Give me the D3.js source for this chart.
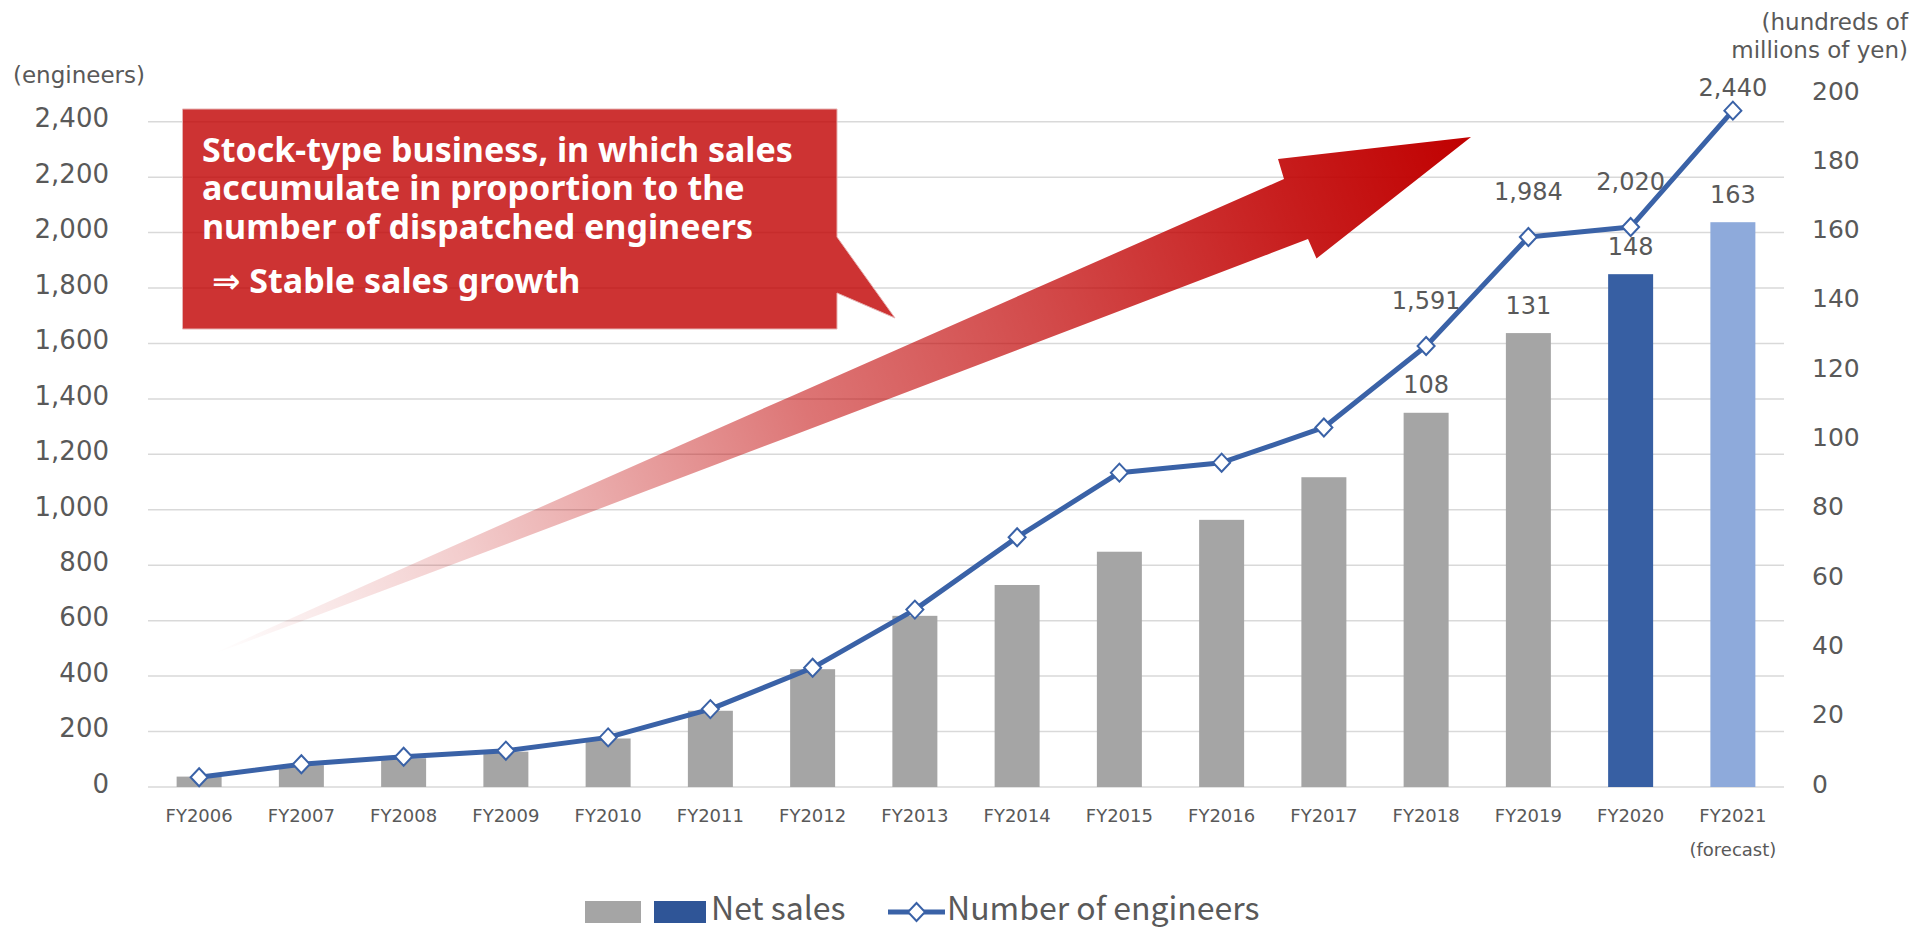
<!DOCTYPE html>
<html>
<head>
<meta charset="utf-8">
<script src="https://cdn.jsdelivr.net/npm/d3@7"></script>
<style>
  html, body { margin: 0; padding: 0; background: #ffffff; }
  svg { display: block; }
</style>
</head>
<body>
<script>
// Fiscal years on the category axis
const categories = ["FY2006", "FY2007", "FY2008", "FY2009", "FY2010", "FY2011", "FY2012", "FY2013",
                    "FY2014", "FY2015", "FY2016", "FY2017", "FY2018", "FY2019", "FY2020", "FY2021"];
// Net sales, hundreds of millions of yen (right axis)
const netSales = [3, 6.3, 8.3, 10.2, 14, 22, 34, 49.4, 58.3, 67.9, 77.1, 89.4, 108, 131, 148, 163];
// Number of dispatched engineers (left axis)
const engineers = [35, 82, 109, 131, 179, 281, 430, 640, 901, 1134, 1170, 1297, 1591, 1984, 2020, 2440];
// Years whose values are printed on the chart
const labelledYears = ["FY2018", "FY2019", "FY2020", "FY2021"];
const latestYear = "FY2020";
const forecastYear = "FY2021";
const forecastNote = "(forecast)";
// Axis ticks
const leftTicks = [0, 200, 400, 600, 800, 1000, 1200, 1400, 1600, 1800, 2000, 2200, 2400];
const rightTicks = [0, 20, 40, 60, 80, 100, 120, 140, 160, 180, 200];
const leftAxisTitle = "(engineers)";
const rightAxisTitle = ["(hundreds of", "millions of yen)"];
const calloutLines = ["Stock-type business, in which sales",
                      "accumulate in proportion to the",
                      "number of dispatched engineers"];
const calloutConclusion = "⇒ Stable sales growth";
const legendSales = "Net sales";
const legendEngineers = "Number of engineers";

const W = 1927, H = 929;
const plot = { left: 148, right: 1784, top: 94, bottom: 787 };
const textColor = "#595959";
const axisFont = "'DejaVu Sans', Verdana, sans-serif";
const legendFont = "'Noto Sans CJK JP', 'Noto Sans', sans-serif";
const gray = "#a5a5a5", darkBlue = "#375fa3", lightBlue = "#8eaadb", lineBlue = "#3a62a7";

const svg = d3.select("body").append("svg").attr("width", W).attr("height", H);

const x = d3.scaleBand().domain(categories).range([plot.left, plot.right])
  .paddingInner(0.56).paddingOuter(0.28);
const yLeft = d3.scaleLinear().domain([0, 2500]).range([plot.bottom, plot.top]);
const yRight = d3.scaleLinear().domain([0, 200]).range([plot.bottom, plot.top]);
const cx = c => x(c) + x.bandwidth() / 2;

// Horizontal gridlines
svg.append("g").selectAll("line").data(leftTicks).join("line")
  .attr("x1", plot.left).attr("x2", plot.right)
  .attr("y1", d => yLeft(d)).attr("y2", d => yLeft(d))
  .attr("stroke", "#d9d9d9").attr("stroke-width", 1.5);

// Growth arrow with a fading gradient
const defs = svg.append("defs");
const grad = defs.append("linearGradient").attr("id", "growthGrad")
  .attr("gradientUnits", "userSpaceOnUse")
  .attr("x1", 214).attr("y1", 653).attr("x2", 1471).attr("y2", 137);
[[0, 0], [0.2, 0.2], [0.47, 0.54], [0.85, 0.88], [1, 1]].forEach(([o, a]) =>
  grad.append("stop").attr("offset", o).attr("stop-color", "#c00000").attr("stop-opacity", a));

const arrow = d3.path();
arrow.moveTo(208, 656);
arrow.quadraticCurveTo(400, 568, 1284, 179);
arrow.lineTo(1278, 159);
arrow.lineTo(1471, 137);
arrow.lineTo(1316.5, 258.5);
arrow.lineTo(1308, 239);
arrow.quadraticCurveTo(515, 542, 208, 656);
arrow.closePath();
svg.append("path").attr("d", arrow.toString()).attr("fill", "url(#growthGrad)");

// Callout box with pointer
const callout = d3.path();
callout.moveTo(182.5, 109);
callout.lineTo(837, 109);
callout.lineTo(837, 237);
callout.lineTo(895, 318);
callout.lineTo(837, 293);
callout.lineTo(837, 329);
callout.lineTo(182.5, 329);
callout.closePath();
svg.append("path").attr("d", callout.toString())
  .attr("fill", "#c00000").attr("fill-opacity", 0.8)
  .attr("stroke", "#e6b3b3").attr("stroke-width", 1);

const calloutText = svg.append("g")
  .attr("font-family", "'Noto Sans', 'DejaVu Sans', sans-serif")
  .attr("font-weight", "bold").attr("font-size", 34).attr("fill", "#ffffff");
calloutText.selectAll("text.line").data(calloutLines).join("text").attr("class", "line")
  .attr("x", 202).attr("y", (d, i) => 161.5 + i * 38.5).text(d => d);
calloutText.append("text").attr("x", 212).attr("y", 292.5).text(calloutConclusion);

// Net sales bars
const barColor = c => c === latestYear ? darkBlue : c === forecastYear ? lightBlue : gray;
svg.append("g").selectAll("rect").data(categories).join("rect")
  .attr("x", c => x(c)).attr("width", x.bandwidth())
  .attr("y", (c, i) => yRight(netSales[i]))
  .attr("height", (c, i) => plot.bottom - yRight(netSales[i]))
  .attr("fill", barColor);

// Engineers line
const pts = categories.map((c, i) => ({ c, v: engineers[i], s: netSales[i] }));
svg.append("path").datum(pts)
  .attr("d", d3.line().x(d => cx(d.c)).y(d => yLeft(d.v)))
  .attr("fill", "none").attr("stroke", lineBlue).attr("stroke-width", 5)
  .attr("stroke-linejoin", "round");

const diamond = "M0,-9L8.5,0L0,9L-8.5,0Z";
svg.append("g").selectAll("path").data(pts).join("path")
  .attr("d", diamond)
  .attr("transform", d => `translate(${cx(d.c)},${yLeft(d.v)})`)
  .attr("fill", "#ffffff").attr("stroke", lineBlue).attr("stroke-width", 2);

// Value labels
const fmt = d3.format(",");
const labelled = pts.filter(d => labelledYears.includes(d.c));
const labels = svg.append("g").attr("font-family", axisFont).attr("font-size", 24)
  .attr("fill", textColor).attr("text-anchor", "middle");
labels.selectAll("text.sales").data(labelled).join("text").attr("class", "sales")
  .attr("x", d => cx(d.c)).attr("y", d => yRight(d.s) - 28).attr("dy", "0.36em")
  .text(d => fmt(d.s));
labels.selectAll("text.eng").data(labelled).join("text").attr("class", "eng")
  .attr("x", d => cx(d.c)).attr("y", d => Math.max(yLeft(d.v) - 45.5, plot.top - 7)).attr("dy", "0.36em")
  .text(d => fmt(d.v));

// Axes
function styleAxis(g, size) {
  g.select(".domain").remove();
  g.selectAll("text").attr("font-family", axisFont).attr("font-size", size).attr("fill", textColor);
}
svg.append("g").attr("transform", `translate(109,0)`)
  .call(d3.axisLeft(yLeft).tickValues(leftTicks).tickSize(0).tickPadding(0).tickFormat(fmt))
  .call(g => styleAxis(g, 26))
  .call(g => g.selectAll("text").attr("dy", "0.2em"));
svg.append("g").attr("transform", `translate(1812,0)`)
  .call(d3.axisRight(yRight).tickValues(rightTicks).tickSize(0).tickPadding(0))
  .call(g => styleAxis(g, 25))
  .call(g => g.selectAll("text").attr("dy", "0.2em"));
svg.append("g").attr("transform", `translate(0,${plot.bottom})`)
  .call(d3.axisBottom(x).tickSize(0).tickPadding(22))
  .call(g => styleAxis(g, 18));

svg.append("text").attr("x", cx(forecastYear)).attr("y", 856)
  .attr("text-anchor", "middle").attr("font-family", axisFont).attr("font-size", 18)
  .attr("fill", textColor).text(forecastNote);

// Axis titles
svg.append("text").attr("x", 13).attr("y", 83)
  .attr("font-family", axisFont).attr("font-size", 23).attr("fill", textColor).text(leftAxisTitle);
svg.append("g").selectAll("text").data(rightAxisTitle).join("text")
  .attr("x", 1908).attr("y", (d, i) => 30 + i * 28).attr("text-anchor", "end")
  .attr("font-family", axisFont).attr("font-size", 23).attr("fill", textColor).text(d => d);

// Legend
const lg = svg.append("g");
lg.append("rect").attr("x", 585).attr("y", 901).attr("width", 56).attr("height", 22).attr("fill", gray);
lg.append("rect").attr("x", 654).attr("y", 901).attr("width", 52).attr("height", 22).attr("fill", "#2f5597");
lg.append("text").attr("x", 711).attr("y", 920)
  .attr("font-family", legendFont).attr("font-size", 32)
  .attr("fill", textColor).text(legendSales);
lg.append("line").attr("x1", 888).attr("x2", 945).attr("y1", 912).attr("y2", 912)
  .attr("stroke", lineBlue).attr("stroke-width", 5);
lg.append("path").attr("d", diamond).attr("transform", "translate(916.5,912)")
  .attr("fill", "#ffffff").attr("stroke", lineBlue).attr("stroke-width", 2);
lg.append("text").attr("x", 947).attr("y", 920)
  .attr("font-family", legendFont).attr("font-size", 32)
  .attr("fill", textColor).text(legendEngineers);
</script>
</body>
</html>
